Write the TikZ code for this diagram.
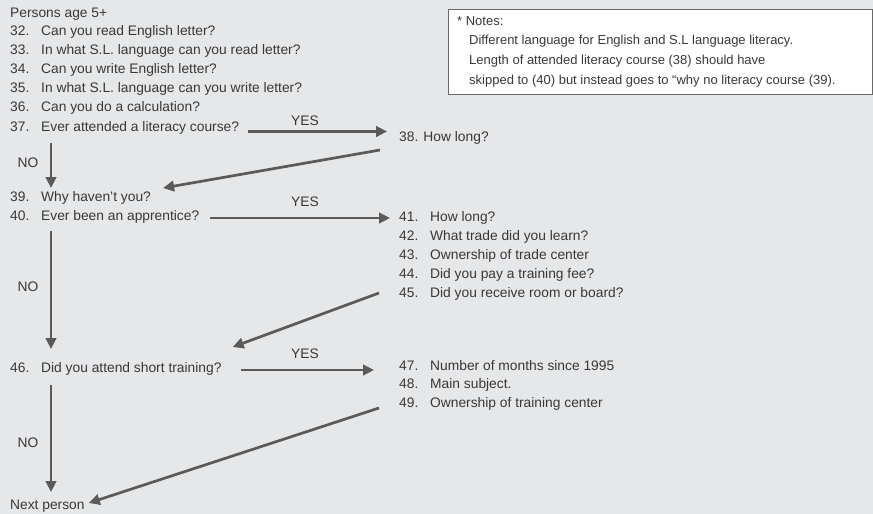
\documentclass[tikz,border=0pt]{standalone}
\usepackage{fontspec}
\setmainfont{Liberation Sans}
\usetikzlibrary{arrows.meta,calc}
\definecolor{bg}{HTML}{E6E7E9}
\definecolor{ink}{HTML}{383838}
\definecolor{arrowgray}{HTML}{5A5A5A}
\definecolor{boxline}{HTML}{6A6A6A}
\newcommand\itm[2]{\makebox[31pt][l]{#1}#2}
\begin{document}
\begin{tikzpicture}[x=1pt,y=-1pt,
  txt/.style={anchor=west,inner sep=0pt,text=ink,font=\fontsize{13.8}{16}\selectfont},
  lbl/.style={inner sep=0pt,text=ink,font=\fontsize{13.8}{16}\selectfont},
  note/.style={anchor=west,inner sep=0pt,text=ink,font=\fontsize{13}{16}\selectfont},
  arr/.style={draw=arrowgray,line width=2.7pt,-{Triangle[length=11pt,width=10.5pt]}},
]
\fill[bg] (0,0) rectangle (873,514);
\useasboundingbox (0,0) rectangle (873,514);

% notes box
\node[draw=boxline,fill=white,line width=1.2pt,minimum width=424pt,minimum height=85pt,
      anchor=north west,inner sep=0pt] (notes) at (448,9) {};
\node[note] (n0) at (457,21) {* Notes:};
\node[note] (n1) at (469,41) {Different language for English and S.L language literacy.};
\node[note] (n2) at (469,61) {Length of attended literacy course (38) should have};
\node[note] (n3) at (469,81) {skipped to (40) but instead goes to “why no literacy course (39).};

% left column
\node[txt] (head) at (10,14) {Persons age 5+};
\node[txt] (q32) at (10,32) {\itm{32.}{Can you read English letter?}};
\node[txt] (q33) at (10,51) {\itm{33.}{In what S.L. language can you read letter?}};
\node[txt] (q34) at (10,70) {\itm{34.}{Can you write English letter?}};
\node[txt] (q35) at (10,89) {\itm{35.}{In what S.L. language can you write letter?}};
\node[txt] (q36) at (10,108) {\itm{36.}{Can you do a calculation?}};
\node[txt] (q37) at (10,128) {\itm{37.}{Ever attended a literacy course?}};
\node[txt] (q39) at (10,198) {\itm{39.}{Why haven’t you?}};
\node[txt] (q40) at (10,217) {\itm{40.}{Ever been an apprentice?}};
\node[txt] (q46) at (10,369) {\itm{46.}{Did you attend short training?}};
\node[txt] (next) at (10,506) {Next person};

% right column
\node[txt] (q38) at (399,138) {38. How long?};
\node[txt] (q41) at (399,218) {\itm{41.}{How long?}};
\node[txt] (q42) at (399,237) {\itm{42.}{What trade did you learn?}};
\node[txt] (q43) at (399,256) {\itm{43.}{Ownership of trade center}};
\node[txt] (q44) at (399,275) {\itm{44.}{Did you pay a training fee?}};
\node[txt] (q45) at (399,294) {\itm{45.}{Did you receive room or board?}};
\node[txt] (q47) at (399,366) {\itm{47.}{Number of months since 1995}};
\node[txt] (q48) at (399,385) {\itm{48.}{Main subject.}};
\node[txt] (q49) at (399,404) {\itm{49.}{Ownership of training center}};

% branch labels
\node[lbl] (y37) at (305,121) {YES};
\node[lbl] (y40) at (305,202) {YES};
\node[lbl] (y46) at (305,354) {YES};
\node[lbl] (no37) at (28,163) {NO};
\node[lbl] (no40) at (28,287) {NO};
\node[lbl] (no46) at (28,443) {NO};

% YES branches
\coordinate (s37) at ($(q37.east)+(9,3.5)$);
\draw[arr] (s37) -- ($(s37 -| q38.west)+(-12,0)$);
\coordinate (s40) at ($(q40.east)+(11,1)$);
\draw[arr] (s40) -- ($(s40 -| q41.west)+(-9,0)$);
\coordinate (s46) at ($(q46.east)+(19,1)$);
\draw[arr] (s46) -- ($(s46 -| q47.west)+(-25,0)$);

% NO branches
\draw[arr] ($(q37.west)+(41,15)$) -- ($(q39.west)+(41,-10)$);
\draw[arr] ($(q40.west)+(41,14)$) -- ($(q46.west)+(41,-20)$);
\draw[arr] ($(q46.west)+(41,16)$) -- ($(next.west)+(41,-14)$);

% returns to the main sequence
\draw[arr] ($(q38.west)+(-19,12)$) -- ($(q39.east)+(12,-10)$);
\draw[arr] ($(q45.west)+(-20,-1)$) -- ($(q46.east)+(11,-22)$);
\draw[arr] ($(q49.west)+(-20,4)$) -- ($(next.east)+(4,-3)$);
\end{tikzpicture}
\end{document}
